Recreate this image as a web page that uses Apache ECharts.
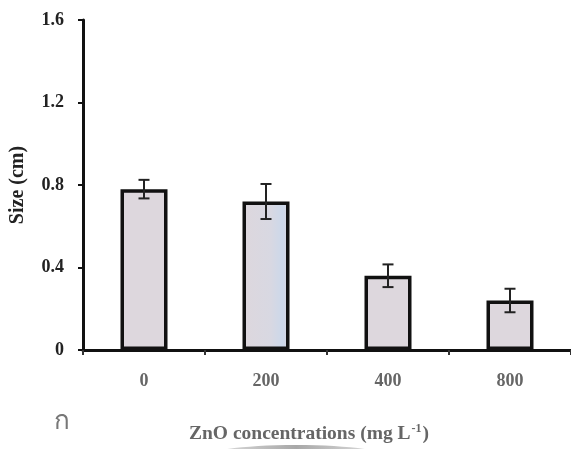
<!DOCTYPE html>
<html>
<head>
<meta charset="utf-8">
<script src="https://cdn.jsdelivr.net/npm/echarts@6/dist/echarts.min.js"></script>
<style>html,body{margin:0;padding:0;background:#fff}#c{width:571px;height:449px}</style>
</head>
<body>
<div id="c"></div>
<script>
var categories = ['0', '200', '400', '800'];
var sizeValues = [0.78, 0.72, 0.36, 0.24];
var sizeErrors = [0.045, 0.085, 0.055, 0.057];
var yTicks = [0, 0.4, 0.8, 1.2, 1.6];

var serif = '"Liberation Serif", "DejaVu Serif", serif';
var chart = echarts.init(document.getElementById('c'));

var barData = sizeValues.map(function (v, i) {
  var item = { value: v };
  if (i === 1) {
    item.itemStyle = {
      color: new echarts.graphic.LinearGradient(0, 0, 1, 0, [
        { offset: 0, color: '#ddd7dd' },
        { offset: 0.6, color: '#d8d8e2' },
        { offset: 0.85, color: '#ccd8ea' },
        { offset: 1, color: '#d8d6e0' }
      ])
    };
  }
  return item;
});

var errData = sizeValues.map(function (v, i) {
  return [i, v - sizeErrors[i], v + sizeErrors[i]];
});

chart.setOption({
  animation: false,
  grid: { left: 81, top: 20, width: 493, height: 339, containLabel: false },
  xAxis: {
    type: 'category',
    data: categories,
    boundaryGap: true,
    name: '{b|ZnO concentrations (mg L}{s|-1}{b|)}',
    nameLocation: 'middle',
    nameGap: 73,
    nameTextStyle: {
      padding: [0, 36, 0, 0],
      rich: {
        b: { fontFamily: serif, fontWeight: 'bold', fontSize: 19.5, color: '#666' },
        s: { fontFamily: serif, fontWeight: 'bold', fontSize: 12, color: '#666', verticalAlign: 'top', padding: [0, 1, 10, 1] }
      }
    },
    axisLine: { show: true, lineStyle: { color: '#111', width: 3 } },
    axisTick: { show: true, alignWithLabel: false, length: 5, lineStyle: { color: '#333', width: 2 } },
    axisLabel: { fontFamily: serif, fontSize: 18, color: '#666', fontWeight: 'bold', margin: 22 }
  },
  yAxis: {
    type: 'value',
    min: 0,
    max: 1.6,
    interval: 0.4,
    name: 'Size (cm)',
    nameLocation: 'middle',
    nameGap: 55,
    nameTextStyle: { fontFamily: serif, fontWeight: 'bold', fontSize: 20, color: '#222' },
    axisLine: { show: true, lineStyle: { color: '#111', width: 3 } },
    axisTick: { show: true, length: 5, lineStyle: { color: '#111', width: 2 } },
    axisLabel: {
      fontFamily: serif, fontSize: 18, fontWeight: 'bold', color: '#222', margin: 19,
      formatter: function (v) {
        for (var k = 0; k < yTicks.length; k++) {
          if (Math.abs(yTicks[k] - v) < 1e-9) return String(yTicks[k]);
        }
        return '';
      }
    },
    splitLine: { show: false }
  },
  graphic: [
    {
      type: 'text',
      left: 54,
      top: 409,
      style: { text: 'ก', font: '26px "Noto Sans", "DejaVu Sans", sans-serif', fill: '#777' }
    },
    {
      type: 'ellipse',
      shape: { cx: 296, cy: 458, rx: 95, ry: 13 },
      style: {
        fill: new echarts.graphic.LinearGradient(0, 0, 1, 0, [
          { offset: 0, color: '#e6e6e6' },
          { offset: 0.5, color: '#a8a8a8' },
          { offset: 1, color: '#e6e6e6' }
        ])
      },
      z: -1
    }
  ],
  series: [
    {
      type: 'bar',
      data: barData,
      barWidth: 47,
      itemStyle: { color: '#ddd7dd', borderColor: '#111', borderWidth: 3.5 },
      z: 2
    },
    {
      type: 'custom',
      data: errData,
      z: 3,
      renderItem: function (params, api) {
        var x = api.value(0);
        var lo = api.coord([x, api.value(1)]);
        var hi = api.coord([x, api.value(2)]);
        var hw = 5.5;
        var st = { stroke: '#222', lineWidth: 2 };
        return {
          type: 'group',
          children: [
            { type: 'line', shape: { x1: lo[0], y1: lo[1], x2: hi[0], y2: hi[1] }, style: st },
            { type: 'line', shape: { x1: lo[0] - hw, y1: lo[1], x2: lo[0] + hw, y2: lo[1] }, style: st },
            { type: 'line', shape: { x1: hi[0] - hw, y1: hi[1], x2: hi[0] + hw, y2: hi[1] }, style: st }
          ]
        };
      }
    }
  ]
});
</script>
</body>
</html>
